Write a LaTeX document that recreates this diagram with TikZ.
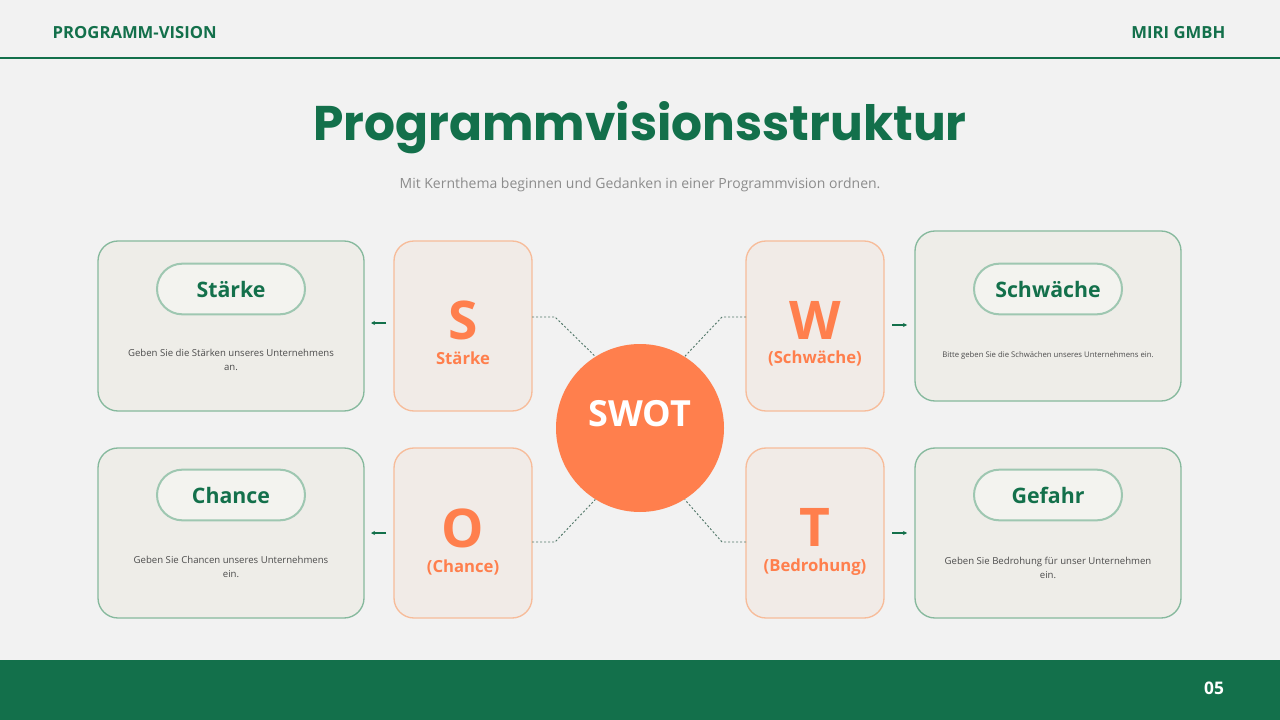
\documentclass[tikz,border=0pt]{standalone}
\usepackage{fontspec}
\setmainfont{Open Sans}
\newfontfamily\titlefont{Poppins}
\usetikzlibrary{arrows.meta}
\definecolor{gr}{HTML}{13704B}
\definecolor{org}{HTML}{FF7F4D}
\definecolor{bg}{HTML}{F2F2F2}
\definecolor{boxf}{HTML}{EEEDE8}
\definecolor{lboxf}{HTML}{F1EBE7}
\definecolor{grb}{HTML}{86B99D}
\definecolor{orb}{HTML}{F7BC9A}
\definecolor{pillf}{HTML}{F3F3EF}
\tikzset{
 infobox/.style={draw=grb,line width=1pt,fill=boxf,rounded corners=15pt},
 letterbox/.style={draw=orb,line width=1pt,fill=lboxf,rounded corners=15pt},
 pill/.style={draw=grb!80,line width=1.5pt,fill=pillf,rounded corners=19pt,minimum width=111pt,minimum height=38pt,font=\fontsize{16}{18}\selectfont\bfseries,text=gr},
 desc/.style={font=\fontsize{7.2}{11}\selectfont,text=black!70,align=center},
 letter/.style={font=\fontsize{40}{40}\selectfont\bfseries,text=org},
 lsub/.style={font=\fontsize{12.5}{14}\selectfont\bfseries,text=org},
 conn/.style={dash pattern=on 1.5pt off 1.5pt,draw=gr!40!gray,line width=0.7pt},
 sarrow/.style={-{Stealth[length=3pt,width=3pt]},draw=gr,line width=1pt},
}
\begin{document}
\begin{tikzpicture}[x=0.75pt,y=-0.75pt]
\fill[bg] (0,0) rectangle (1280,720);
\useasboundingbox (0,0) rectangle (1280,720);
\node[anchor=west,text=gr,font=\fontsize{12.5}{15}\selectfont\bfseries] (hl) at (48,33) {PROGRAMM-VISION};
\node[anchor=east,text=gr,font=\fontsize{12.5}{15}\selectfont\bfseries] (hr) at (1230,33) {MIRI GMBH};
\draw[gr,line width=0.8pt] (0,58) -- (1280,58);
\node[text=gr,font=\titlefont\fontsize{36.5}{40}\selectfont\bfseries] (title) at (640,128) {Programmvisionsstruktur};
\node[text=black!45,font=\fontsize{10.5}{12}\selectfont] (sub) at (640,185) {Mit Kernthema beginnen und Gedanken in einer Programmvision ordnen.};
% info boxes
\draw[infobox] (98,241) rectangle (364,411);
\draw[infobox] (98,448) rectangle (364,618);
\draw[infobox] (915,231) rectangle (1181,401);
\draw[infobox] (915,448) rectangle (1181,618);
% letter boxes
\draw[letterbox] (394,241) rectangle (532,411);
\draw[letterbox] (394,448) rectangle (532,618);
\draw[letterbox] (746,241) rectangle (884,411);
\draw[letterbox] (746,448) rectangle (884,618);
% pills
\node[pill] (p1) at (231,289) {Stärke};
\node[pill] (p2) at (231,495) {Chance};
\node[pill] (p3) at (1048,289) {Schwäche};
\node[pill] (p4) at (1048,495) {Gefahr};
% descriptions
\node[desc] (d1) at (231,360) {Geben Sie die Stärken unseres Unternehmens\\an.};
\node[desc] (d2) at (231,567) {Geben Sie Chancen unseres Unternehmens\\ein.};
\node[desc,font=\fontsize{5.8}{9}\selectfont] (d3) at (1048,355) {Bitte geben Sie die Schwächen unseres Unternehmens ein.};
\node[desc] (d4) at (1048,568) {Geben Sie Bedrohung für unser Unternehmen\\ein.};
% letters
\node[letter] (ls) at (463,320) {S};
\node[lsub] (ss) at (463,358) {Stärke};
\node[letter] (lo) at (463,528) {O};
\node[lsub] (so) at (463,567) {(Chance)};
\node[letter] (lw) at (815,320) {W};
\node[lsub] (sw) at (815,358) {(Schwäche)};
\node[letter] (lt) at (815,527) {T};
\node[lsub] (st) at (815,567) {(Bedrohung)};
% circle
\node[circle,fill=org,minimum size=168*0.75pt,inner sep=0] (swot) at (640,428) {};
\node[text=white,font=\fontsize{27}{30}\selectfont\bfseries] (swott) at (640,414) {SWOT};
% connectors
\coordinate (a1) at (532,317); \coordinate (b1) at (555,317);
\coordinate (a2) at (746,317); \coordinate (b2) at (722,317);
\coordinate (a3) at (532,542); \coordinate (b3) at (555,542);
\coordinate (a4) at (746,542); \coordinate (b4) at (722,542);
\draw[conn] (a1) -- (b1) -- (swot.122);
\draw[conn] (a2) -- (b2) -- (swot.58);
\draw[conn] (a3) -- (b3) -- (swot.238);
\draw[conn] (a4) -- (b4) -- (swot.302);
% small arrows
\coordinate (e1) at (386,323); \coordinate (f1) at (371,323);
\coordinate (e2) at (386,533); \coordinate (f2) at (371,533);
\coordinate (e3) at (892,325); \coordinate (f3) at (907,325);
\coordinate (e4) at (892,533); \coordinate (f4) at (907,533);
\draw[sarrow] (e1) -- (f1);
\draw[sarrow] (e2) -- (f2);
\draw[sarrow] (e3) -- (f3);
\draw[sarrow] (e4) -- (f4);
% footer
\fill[gr] (0,660) rectangle (1280,720);
\node[text=white,font=\fontsize{13}{15}\selectfont\bfseries] (pg) at (1214,688) {05};
\end{tikzpicture}
\end{document}
